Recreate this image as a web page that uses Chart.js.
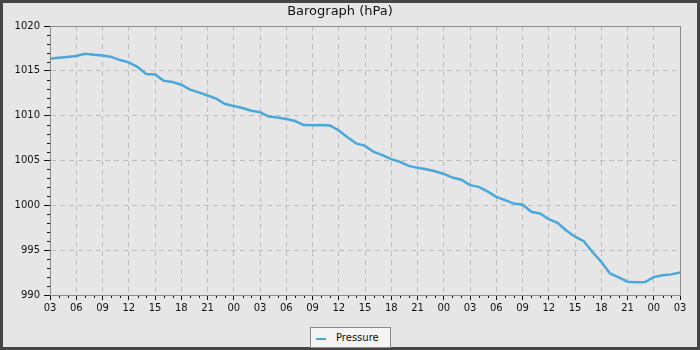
<!DOCTYPE html>
<html>
<head>
<meta charset="utf-8">
<script src="https://cdn.jsdelivr.net/npm/chart.js@4"></script>
<style>
  html, body { margin: 0; padding: 0; background: #e6e6e6; }
  #wrap { position: relative; width: 700px; height: 350px; }
  #c { position: absolute; left: 0; top: 0; }
  #legend {
    position: absolute; left: 310px; top: 327px; width: 79px; height: 19px;
    border: 1px solid #8a8a8a; background: #f4f4f4;
    font-family: "DejaVu Sans", sans-serif; font-size: 10px; color: #111;
    display: flex; align-items: center;
  }
  #legend .sw { display: inline-block; width: 10px; height: 2px; margin-left: 5px; margin-right: 10px; margin-top: 3px; }
</style>
</head>
<body>
<div id="wrap">
  <canvas id="c" width="700" height="350"></canvas>
  <div id="legend"><span class="sw"></span><span id="legtext"></span></div>
</div>
<script>
// ---- data (hours since first tick, pressure hPa) ----
const hours = [0,1,2,3,4,5,6,7,8,9,10,11,12,13,14,15,16,17,18,19,20,21,22,23,24,
  25,26,27,28,29,30,31,32,33,34,35,36,37,38,39,40,41,42,43,44,45,46,47,48,
  49,50,51,52,53,54,55,56,57,58,59,60,61,62,63,64,65,66,67,68,69,70,71,72];
const pressure = [1016.35,1016.45,1016.55,1016.65,1016.9,1016.8,1016.7,1016.55,1016.2,1015.95,
  1015.45,1014.65,1014.6,1013.9,1013.75,1013.45,1012.9,1012.6,1012.25,1011.9,
  1011.3,1011.08,1010.85,1010.55,1010.4,1009.9,1009.8,1009.63,1009.4,1008.95,
  1008.93,1008.95,1008.9,1008.35,1007.6,1006.9,1006.63,1005.95,1005.6,1005.15,
  1004.85,1004.4,1004.18,1004.03,1003.8,1003.5,1003.1,1002.85,1002.25,1002.06,
  1001.55,1000.95,1000.58,1000.2,1000.1,999.28,999.1,998.45,998.05,997.2,
  996.5,996.0,994.8,993.7,992.4,991.97,991.48,991.41,991.45,992.0,
  992.2,992.3,992.5];
const hourLabels = ['03','06','09','12','15','18','21','00','03','06','09','12','15',
  '18','21','00','03','06','09','12','15','18','21','00','03'];
const seriesName = 'Pressure';
const chartTitle = 'Barograph (hPa)';
const yMin = 990, yMax = 1020, yStep = 5;

const lineColor = '#4aa7d9';
document.querySelector('#legend .sw').style.background = lineColor;
document.getElementById('legtext').textContent = seriesName;

const FONT = "'DejaVu Sans', sans-serif";

const framePlugin = {
  id: 'frame',
  beforeDraw(chart) {
    const ctx = chart.ctx;
    ctx.save();
    ctx.fillStyle = '#e6e6e6';
    ctx.fillRect(0, 0, chart.width, chart.height);
    ctx.restore();
  },
  afterDraw(chart) {
    const ctx = chart.ctx;
    const a = chart.chartArea;
    const xs = chart.scales.x, ys = chart.scales.y;
    ctx.save();
    ctx.strokeStyle = '#111';
    ctx.lineWidth = 1;
    ctx.beginPath();
    for (let v = yMin; v <= yMax; v++) {
      if (v % yStep === 0) continue;
      const y = Math.round(ys.getPixelForValue(v)) + 0.5;
      ctx.moveTo(a.left - 3, y); ctx.lineTo(a.left, y);
    }
    for (let h = hours[0]; h <= hours[hours.length - 1]; h++) {
      if (h % 3 === 0) continue;
      const x = Math.round(xs.getPixelForValue(h)) + 0.5;
      ctx.moveTo(x, a.bottom); ctx.lineTo(x, a.bottom + 3);
    }
    ctx.stroke();
    ctx.strokeStyle = '#8c8c8c';
    ctx.strokeRect(Math.round(a.left) + 0.5, Math.round(a.top) + 0.5,
      Math.round(a.right - a.left), Math.round(a.bottom - a.top));
    ctx.strokeStyle = '#464646';
    ctx.lineWidth = 3;
    ctx.strokeRect(1.5, 1.5, chart.width - 3, chart.height - 3);
    ctx.restore();
  }
};

new Chart(document.getElementById('c'), {
  type: 'line',
  data: {
    datasets: [{
      label: seriesName,
      data: hours.map((h, i) => ({x: h, y: pressure[i]})),
      borderColor: lineColor,
      backgroundColor: lineColor,
      borderWidth: 2.5,
      pointRadius: 0,
      tension: 0,
      fill: false
    }]
  },
  options: {
    responsive: false,
    animation: false,
    devicePixelRatio: 1,
    layout: { padding: { left: 0, right: 20, top: 0, bottom: 0 } },
    plugins: {
      legend: { display: false },
      tooltip: { enabled: false },
      title: {
        display: true,
        text: chartTitle,
        color: '#111',
        font: { family: FONT, size: 13, weight: 'normal', lineHeight: 1.2 },
        padding: { top: 4, bottom: 6.4 }
      }
    },
    scales: {
      x: {
        type: 'linear',
        min: hours[0], max: hours[hours.length - 1],
        afterFit(s) { s.height = 55; },
        ticks: {
          stepSize: 3, autoSkip: false, maxRotation: 0, padding: 2,
          color: '#111', font: { family: FONT, size: 10 },
          callback: (v) => hourLabels[Math.round(v / 3)]
        },
        grid: { color: '#bdbdbd', lineWidth: 1, tickLength: 5, tickColor: '#111', tickBorderDash: [] },
        border: { display: true, color: '#8c8c8c', dash: [5, 4] }
      },
      y: {
        min: yMin, max: yMax,
        afterFit(s) { s.width = 50; },
        ticks: {
          stepSize: yStep, padding: 4,
          color: '#111', font: { family: FONT, size: 10 },
          callback: (v) => String(v)
        },
        grid: { color: '#bdbdbd', lineWidth: 1, tickLength: 6, tickColor: '#111', tickBorderDash: [] },
        border: { display: true, color: '#8c8c8c', dash: [5, 4] }
      }
    }
  },
  plugins: [framePlugin]
});
</script>
</body>
</html>
